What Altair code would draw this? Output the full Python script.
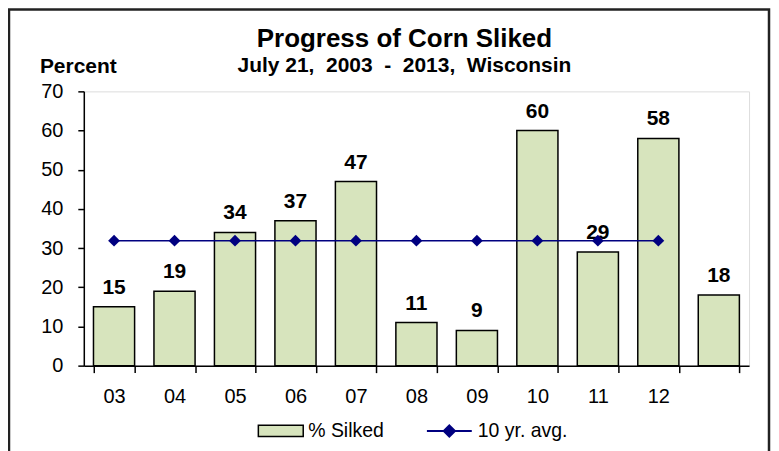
import altair as alt
import pandas as pd

years = ["03", "04", "05", "06", "07", "08", "09", "10", "11", "12", "13"]
silked = [15, 19, 34, 37, 47, 11, 9, 60, 29, 58, 18]
avg_years = ["03", "04", "05", "06", "07", "08", "09", "10", "11", "12"]
avg_vals = [31.9] * 10
y_ticks = [0, 10, 20, 30, 40, 50, 60, 70]

FONT = "Liberation Sans"
BAR_FILL = "#D7E4BD"
NAVY = "#000080"

bars_df = pd.DataFrame({"year": years, "value": silked, "series": "% Silked"})
avg_df = pd.DataFrame({"year": avg_years, "value": avg_vals, "series": "10 yr. avg."})

W, H = 667, 275

xaxis = alt.Axis(
    title=None,
    labelExpr="datum.value == '13' ? '' : datum.value",
    labelAngle=0,
    labelFont=FONT,
    labelFontSize=20,
    labelColor="black",
    labelPadding=14,
    tickBand="extent",
    tickSize=7,
    tickColor="black",
    tickWidth=1.5,
    domainColor="black",
    domainWidth=1.5,
)
xscale = alt.Scale(domain=years, paddingInner=0.32, paddingOuter=0.16)

yaxis = alt.Axis(
    title="Percent",
    titleAngle=0,
    titleAlign="center",
    titleBaseline="alphabetic",
    titleX=-6,
    titleY=-19,
    titleFont=FONT,
    titleFontSize=21,
    titleFontWeight="bold",
    titleColor="black",
    values=y_ticks,
    labelOverlap=False,
    grid=False,
    labelFont=FONT,
    labelFontSize=20,
    labelColor="black",
    labelPadding=15,
    tickSize=6,
    tickColor="black",
    tickWidth=1.5,
    domainColor="black",
    domainWidth=1.5,
)
yscale = alt.Scale(domain=[0, 70], nice=False)


def X():
    return alt.X("year:N", sort=years, scale=xscale, axis=xaxis)


def Y():
    return alt.Y("value:Q", scale=yscale, axis=yaxis)


bars = alt.Chart(bars_df).mark_bar(stroke="black", strokeWidth=1.5).encode(
    x=X(),
    y=Y(),
    fill=alt.Fill(
        "series:N",
        scale=alt.Scale(domain=["% Silked"], range=[BAR_FILL]),
        legend=alt.Legend(
            title=None,
            orient="none",
            legendX=174,
            legendY=317,
            padding=0,
            symbolType="M-1,-0.25H1V0.25H-1Z",
            symbolSize=2025,
            symbolStrokeColor="black",
            symbolStrokeWidth=1.5,
            labelFont=FONT,
            labelFontSize=19.5,
            labelColor="black",
            labelOffset=4,
        ),
    ),
)

labels = alt.Chart(bars_df).mark_text(
    font=FONT, fontSize=21, fontWeight="bold", color="black",
    baseline="alphabetic", dy=-13,
).encode(
    x=X(),
    y=Y(),
    text="value:Q",
)

line = alt.Chart(avg_df).mark_line(strokeWidth=1.5).encode(
    x=X(),
    y=Y(),
    stroke=alt.Stroke(
        "series:N",
        scale=alt.Scale(domain=["10 yr. avg."], range=[NAVY]),
        legend=alt.Legend(
            title=None,
            orient="none",
            legendX=343,
            legendY=317,
            padding=0,
            symbolType="M-1,0H1M0,-0.25L0.25,0L0,0.25L-0.25,0Z",
            symbolSize=2025,
            symbolFillColor=NAVY,
            symbolStrokeWidth=2,
            labelFont=FONT,
            labelFontSize=19.5,
            labelColor="black",
            labelOffset=5,
        ),
    ),
)

points = alt.Chart(avg_df).mark_point(
    shape="diamond", filled=True, size=140, color=NAVY, opacity=1
).encode(
    x=X(),
    y=Y(),
)

frame = alt.Chart(pd.DataFrame({"f": [0]})).mark_rect(
    fill=None, stroke="#222222", strokeWidth=2.5
).encode(
    x=alt.value(-75),
    x2=alt.value(687),
    y=alt.value(-82),
    y2=alt.value(420),
)

NB = "\u00a0"
subtitle = f"July 21,{NB} 2003{NB} -{NB} 2013,{NB} Wisconsin"

chart = (
    alt.layer(frame, bars, labels, line, points)
    .resolve_scale(fill="independent", stroke="independent")
    .properties(
        width=W,
        height=H,
        autosize=alt.AutoSizeParams(type="none"),
        padding={"left": 76, "top": 83, "right": 22, "bottom": 85},
        title=alt.TitleParams(
            text="Progress of Corn Sliked",
            subtitle=subtitle,
            anchor="middle",
            frame="group",
            dx=-12,
            dy=80,
            offset=12,
            font=FONT,
            fontSize=26,
            fontWeight="bold",
            color="black",
            subtitleFont=FONT,
            subtitleFontSize=21,
            subtitleFontWeight="bold",
            subtitleColor="black",
            subtitlePadding=3,
        ),
    )
    .configure_view(stroke="#999999", strokeWidth=1.5)
    .configure(background="white")
)

chart.save("out.html", embed_options={"renderer": "svg", "actions": False})
